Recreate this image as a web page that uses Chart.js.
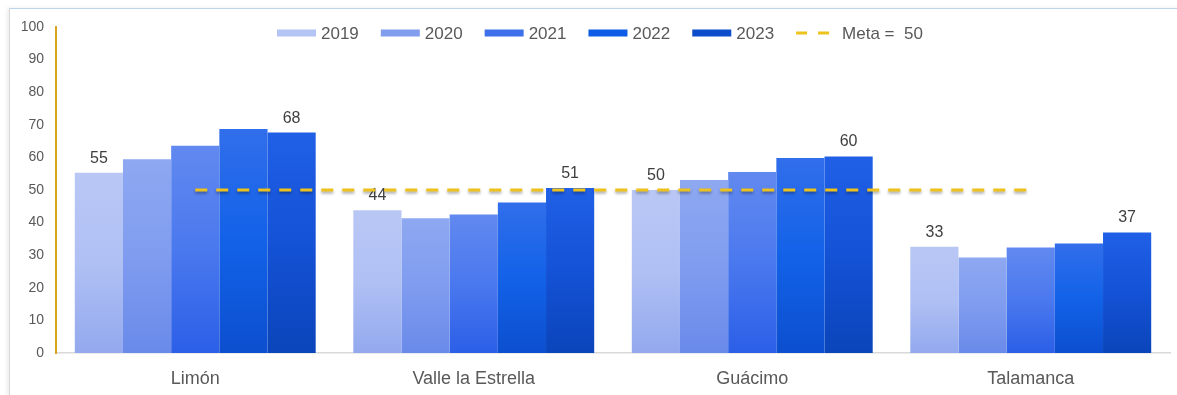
<!DOCTYPE html>
<html>
<head>
<meta charset="utf-8">
<script src="https://cdn.jsdelivr.net/npm/chart.js@4/dist/chart.umd.min.js"></script>
<style>
  html, body { margin: 0; padding: 0; background: #fff; overflow: hidden; }
  .card {
    position: absolute; left: 9px; top: 8px; right: -5px; bottom: -5px;
    border-top: 1px solid #bcd4ee; border-left: 1px solid #d9d9d9;
    box-shadow: -2px 0 4px rgba(0,0,0,0.08);
  }
  #wrap { position: absolute; left: 0; top: 0; width: 1177px; height: 395px; }
</style>
</head>
<body>
<div class="card"></div>
<div id="wrap"><canvas id="chart"></canvas></div>
<script>
// chart data
const categories = ['Limón', 'Valle la Estrella', 'Guácimo', 'Talamanca'];
const years = ['2019', '2020', '2021', '2022', '2023'];
const v2019 = [55.3, 43.8, 50.0, 32.6];
const v2020 = [59.4, 41.3, 53.1, 29.3];
const v2021 = [63.6, 42.5, 55.5, 32.4];
const v2022 = [68.7, 46.2, 59.8, 33.6];
const v2023 = [67.6, 50.6, 60.3, 37.0];
const meta = 50;
const metaLine = [meta, meta, meta, meta];
const yTicks = [0, 10, 20, 30, 40, 50, 60, 70, 80, 90, 100];

const font = 'Liberation Sans, Arial, sans-serif';

// gradient stops per year (top -> bottom)
const barStops = [
  ['#b9c7f5', '#b0c0f4', '#93a9ee'],
  ['#8ea8f1', '#7f9cef', '#6a8aea'],
  ['#6189ef', '#4a78ee', '#2b5fe7'],
  ['#316eeb', '#1262e8', '#0c4fcf'],
  ['#2060e7', '#1452d6', '#0b45ba']
];
const legendColors = ['#b4c4f4', '#819dee', '#3e70ec', '#0d5ce6', '#0b4dcb'];

function barGradient(i) {
  return function(ctx) {
    const chart = ctx.chart;
    if (!chart.chartArea || ctx.raw == null) return legendColors[i];
    const y = chart.scales.y;
    const top = y.getPixelForValue(ctx.raw);
    const bottom = y.getPixelForValue(0);
    const g = chart.ctx.createLinearGradient(0, top, 0, bottom);
    g.addColorStop(0, barStops[i][0]);
    g.addColorStop(0.5, barStops[i][1]);
    g.addColorStop(1, barStops[i][2]);
    return g;
  };
}

const series = [v2019, v2020, v2021, v2022, v2023];
const datasets = series.map((d, i) => ({
  type: 'bar',
  label: years[i],
  data: d,
  backgroundColor: barGradient(i),
  borderWidth: 0,
  order: 1
}));
datasets.push({
  type: 'line',
  label: 'Meta =  ' + meta,
  data: metaLine,
  borderColor: '#eec21c',
  borderWidth: 3,
  borderDash: [12, 9],
  pointRadius: 0,
  fill: false,
  order: 0
});

// value labels on first and last year, drawn just before the meta line
const valueLabels = {
  id: 'valueLabels',
  beforeDatasetDraw(chart, args) {
    if (args.index !== 5) return;
    const c = chart.ctx;
    c.save();
    c.font = '16px ' + font;
    c.fillStyle = '#404040';
    c.textAlign = 'center';
    c.textBaseline = 'alphabetic';
    [0, 4].forEach(di => {
      chart.getDatasetMeta(di).data.forEach((bar, j) => {
        c.fillText(Math.round(series[di][j]), bar.x, bar.y - 10);
      });
    });
    c.restore();
    // shadow for the dashed line
    c.save();
    c.shadowColor = 'rgba(0,0,0,0.35)';
    c.shadowBlur = 3;
    c.shadowOffsetY = 2;
  },
  afterDatasetDraw(chart, args) {
    if (args.index === 5) chart.ctx.restore();
  }
};

// legend drawn inside the top of the plot
const topLegend = {
  id: 'topLegend',
  afterDraw(chart) {
    const c = chart.ctx;
    const y = 33;
    let x = 277;
    c.save();
    c.font = '17px ' + font;
    c.textBaseline = 'middle';
    c.fillStyle = '#595959';
    years.forEach((yr, i) => {
      c.fillStyle = legendColors[i];
      c.fillRect(x, y - 3.5, 39, 7);
      x += 44;
      c.fillStyle = '#595959';
      c.fillText(yr, x, y + 1);
      x += c.measureText(yr).width + 22;
    });
    c.strokeStyle = '#eec21c';
    c.lineWidth = 3;
    c.beginPath();
    c.moveTo(x, y); c.lineTo(x + 11, y);
    c.moveTo(x + 22, y); c.lineTo(x + 33, y);
    c.stroke();
    x += 46;
    c.fillStyle = '#595959';
    c.fillText('Meta =  ' + meta, x, y + 1);
    c.restore();
  }
};

new Chart(document.getElementById('chart'), {
  data: { labels: categories, datasets: datasets },
  options: {
    responsive: true,
    maintainAspectRatio: false,
    animation: false,
    layout: { padding: { top: 27, right: 7, left: 0, bottom: 0 } },
    datasets: {
      bar: { barPercentage: 1, categoryPercentage: 0.865 }
    },
    plugins: {
      legend: { display: false },
      tooltip: { enabled: false }
    },
    scales: {
      x: {
        grid: { display: false, drawTicks: false },
        border: { color: '#d9d9d9', width: 1.5 },
        ticks: { color: '#595959', font: { family: font, size: 18 }, padding: 15 },
        afterFit(s) { s.height = 42; }
      },
      y: {
        min: 0,
        max: 100,
        afterBuildTicks(s) { s.ticks = yTicks.map(v => ({ value: v })); },
        grid: { display: false, drawTicks: false },
        border: { color: '#d8a520', width: 2 },
        ticks: { color: '#595959', font: { family: font, size: 14 }, padding: 12 },
        afterFit(s) { s.width = 56; }
      }
    }
  },
  plugins: [valueLabels, topLegend]
});
</script>
</body>
</html>
